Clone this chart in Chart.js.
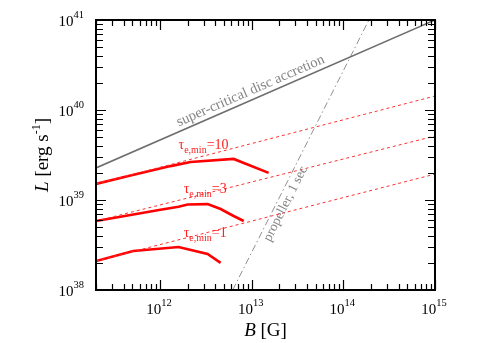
<!DOCTYPE html>
<html>
<head>
<meta charset="utf-8">
<script src="https://cdn.jsdelivr.net/npm/chart.js@4.4.0/dist/chart.umd.min.js"></script>
<style>
  html, body { margin: 0; padding: 0; background: #fff; }
</style>
</head>
<body>
<canvas id="myChart" width="491" height="343"></canvas>
<script>
// tick labels (decades)
var xTicks = [1e12, 1e13, 1e14, 1e15];
var yTicks = [1e38, 1e39, 1e40, 1e41];

// super-critical disc accretion
var superB = [2e11, 1e15];
var superL = [2.27e39, 1e41];

// propeller, 1 sec
var propB = [6.2e12, 1.9e14];
var propL = [1e38, 1e41];

// dashed limits
var limB = [2e11, 1e15];
var lim10L = [1.51e39, 1.43e40];
var lim3L = [5.84e38, 5.14e39];
var lim1L = [2.1e38, 1.94e39];

// solid curves
var tau10B = [2e11, 4.76e11, 1.3e12, 2.15e12, 6.35e12, 1.53e13];
var tau10L = [1.51e39, 1.87e39, 2.38e39, 2.64e39, 2.86e39, 2.0e39];
var tau3B = [2e11, 4.76e11, 1.01e12, 1.59e12, 2.0e12, 3.3e12, 4.58e12, 6.35e12, 8.18e12];
var tau3L = [5.84e38, 6.8e38, 7.8e38, 8.4e38, 8.9e38, 9.0e38, 7.94e38, 6.64e38, 5.84e38];
var tau1B = [2e11, 5.1e11, 1.59e12, 3.3e12, 4.58e12];
var tau1L = [2.1e38, 2.71e38, 3.0e38, 2.51e38, 2.0e38];

var serif = '"Liberation Serif", "DejaVu Serif", serif';

function pts(xs, ys) {
  return xs.map(function (x, i) { return { x: x, y: ys[i] }; });
}

function line(label, xs, ys, color, width, dash) {
  return {
    label: label,
    data: pts(xs, ys),
    showLine: true,
    borderColor: color,
    backgroundColor: color,
    borderWidth: width,
    borderDash: dash || [],
    pointRadius: 0,
    tension: 0
  };
}

function drawPow(ctx, x, y, exp, align) {
  ctx.font = '15px ' + serif;
  var w1 = ctx.measureText('10').width;
  ctx.font = '10.5px ' + serif;
  var w2 = ctx.measureText(exp).width;
  var left = align === 'right' ? x - w1 - w2 : x - (w1 + w2) / 2;
  ctx.textAlign = 'left';
  ctx.textBaseline = 'alphabetic';
  ctx.font = '15px ' + serif;
  ctx.fillText('10', left, y);
  ctx.font = '10.5px ' + serif;
  ctx.fillText(exp, left + w1, y - 8);
}

function minorVals(min, max) {
  var out = [];
  for (var e = Math.floor(Math.log10(min)); e <= Math.ceil(Math.log10(max)); e++) {
    for (var m = 1; m <= 9; m++) {
      var v = m * Math.pow(10, e);
      if (v >= min * 0.999 && v <= max * 1.001) out.push({ v: v, major: m === 1 });
    }
  }
  return out;
}

var framePlugin = {
  id: 'frame',
  afterDatasetsDraw: function (chart) {
    var ctx = chart.ctx;
    var a = chart.chartArea;
    var xs = chart.scales.x, ys = chart.scales.y;
    ctx.save();

    function px(b) { return xs.getPixelForValue(b); }
    function py(l) { return ys.getPixelForValue(l); }

    // super-critical label, along its line
    var ang = Math.atan2(py(superL[1]) - py(superL[0]), px(superB[1]) - px(superB[0]));
    var lx = px(1.06e13);
    var t = (lx - px(superB[0])) / (px(superB[1]) - px(superB[0]));
    var ly = py(superL[0]) + t * (py(superL[1]) - py(superL[0]));
    ctx.translate(lx, ly);
    ctx.rotate(ang);
    ctx.fillStyle = '#858585';
    ctx.font = '14.5px ' + serif;
    ctx.textAlign = 'center';
    ctx.textBaseline = 'alphabetic';
    ctx.fillText('super-critical disc accretion', 0, -5);
    ctx.setTransform(1, 0, 0, 1, 0, 0);

    // propeller label
    var ang2 = Math.atan2(py(propL[1]) - py(propL[0]), px(propB[1]) - px(propB[0]));
    var ly2 = 200;
    var t2 = (ly2 - py(propL[0])) / (py(propL[1]) - py(propL[0]));
    var lx2 = px(propB[0]) + t2 * (px(propB[1]) - px(propB[0]));
    ctx.translate(lx2, ly2);
    ctx.rotate(ang2);
    ctx.font = '13.5px ' + serif;
    ctx.fillText('propeller, 1 sec', 0, 12);
    ctx.setTransform(1, 0, 0, 1, 0, 0);

    // tau labels
    ctx.fillStyle = '#ff2020';
    ctx.textAlign = 'left';
    [[1.59e12, 3.69e39, '10'], [1.81e12, 1.2e39, '3'], [1.81e12, 3.88e38, '1']].forEach(function (lb) {
      var x = px(lb[0]), y = py(lb[1]);
      ctx.font = '14px ' + serif;
      ctx.fillText('\u03c4', x, y);
      var w = ctx.measureText('\u03c4').width;
      ctx.font = '10px ' + serif;
      ctx.fillText('e,min', x + w, y + 4);
      var w2 = ctx.measureText('e,min').width;
      ctx.font = '14px ' + serif;
      ctx.fillText('=' + lb[2], x + w + w2, y);
    });

    // frame
    ctx.strokeStyle = '#000';
    ctx.lineWidth = 2;
    ctx.strokeRect(a.left, a.top, a.right - a.left, a.bottom - a.top);

    // inward ticks on all four sides
    ctx.lineWidth = 1.2;
    ctx.beginPath();
    minorVals(xs.min, xs.max).forEach(function (tk) {
      var x = Math.round(xs.getPixelForValue(tk.v)) + 0.5;
      var len = tk.major ? 10 : 6;
      ctx.moveTo(x, a.bottom); ctx.lineTo(x, a.bottom - len);
      ctx.moveTo(x, a.top); ctx.lineTo(x, a.top + len);
    });
    minorVals(ys.min, ys.max).forEach(function (tk) {
      var y = Math.round(ys.getPixelForValue(tk.v)) + 0.5;
      var len = tk.major ? 10 : 7;
      ctx.moveTo(a.left, y); ctx.lineTo(a.left + len, y);
      ctx.moveTo(a.right, y); ctx.lineTo(a.right - len, y);
    });
    ctx.stroke();

    // tick labels
    ctx.fillStyle = '#000';
    xTicks.forEach(function (v) {
      drawPow(ctx, xs.getPixelForValue(v) - 1, a.bottom + 24, String(Math.round(Math.log10(v))), 'center');
    });
    yTicks.forEach(function (v) {
      drawPow(ctx, a.left - 12, ys.getPixelForValue(v) + 6, String(Math.round(Math.log10(v))), 'right');
    });

    // axis titles
    ctx.textBaseline = 'alphabetic';
    ctx.textAlign = 'left';
    ctx.font = 'italic 19px ' + serif;
    var wb = ctx.measureText('B').width;
    ctx.font = '19px ' + serif;
    var wg = ctx.measureText(' [G]').width;
    var sx = (a.left + a.right) / 2 - (wb + wg) / 2;
    ctx.font = 'italic 19px ' + serif;
    ctx.fillText('B', sx, 336);
    ctx.font = '19px ' + serif;
    ctx.fillText(' [G]', sx + wb, 336);

    ctx.translate(48, (a.top + a.bottom) / 2);
    ctx.rotate(-Math.PI / 2);
    ctx.font = 'italic 19px ' + serif;
    var wl = ctx.measureText('L').width;
    ctx.font = '19px ' + serif;
    var we = ctx.measureText(' [erg s').width;
    ctx.font = '12px ' + serif;
    var wm = ctx.measureText('-1').width;
    ctx.font = '19px ' + serif;
    var wr = ctx.measureText(']').width;
    var tx = -(wl + we + wm + wr) / 2;
    ctx.font = 'italic 19px ' + serif;
    ctx.fillText('L', tx, 0);
    ctx.font = '19px ' + serif;
    ctx.fillText(' [erg s', tx + wl, 0);
    ctx.font = '12px ' + serif;
    ctx.fillText('-1', tx + wl + we, -8);
    ctx.font = '19px ' + serif;
    ctx.fillText(']', tx + wl + we + wm, 0);
    ctx.restore();
  }
};

var ctx = document.getElementById('myChart').getContext('2d');
var myChart = new Chart(ctx, {
  type: 'scatter',
  data: {
    datasets: [
      line('super-critical', superB, superL, '#6e6e6e', 1.6),
      line('propeller', propB, propL, '#909090', 1, [7, 3, 1.5, 3]),
      line('lim10', limB, lim10L, '#ff3030', 1, [3, 3]),
      line('lim3', limB, lim3L, '#ff3030', 1, [3, 3]),
      line('lim1', limB, lim1L, '#ff3030', 1, [3, 3]),
      line('tau10', tau10B, tau10L, '#ff0000', 2.6),
      line('tau3', tau3B, tau3L, '#ff0000', 2.6),
      line('tau1', tau1B, tau1L, '#ff0000', 2.6)
    ]
  },
  options: {
    responsive: false,
    animation: false,
    layout: { padding: { top: 20, right: 56, left: 0, bottom: 0 } },
    plugins: { legend: { display: false }, tooltip: { enabled: false } },
    scales: {
      x: {
        type: 'logarithmic',
        min: 2e11,
        max: 1e15,
        grid: { display: false },
        border: { display: false },
        ticks: { display: false },
        afterFit: function (s) { s.height = 53; }
      },
      y: {
        type: 'logarithmic',
        min: 1e38,
        max: 1e41,
        grid: { display: false },
        border: { display: false },
        ticks: { display: false },
        afterFit: function (s) { s.width = 96; }
      }
    }
  },
  plugins: [framePlugin]
});
</script>
</body>
</html>
